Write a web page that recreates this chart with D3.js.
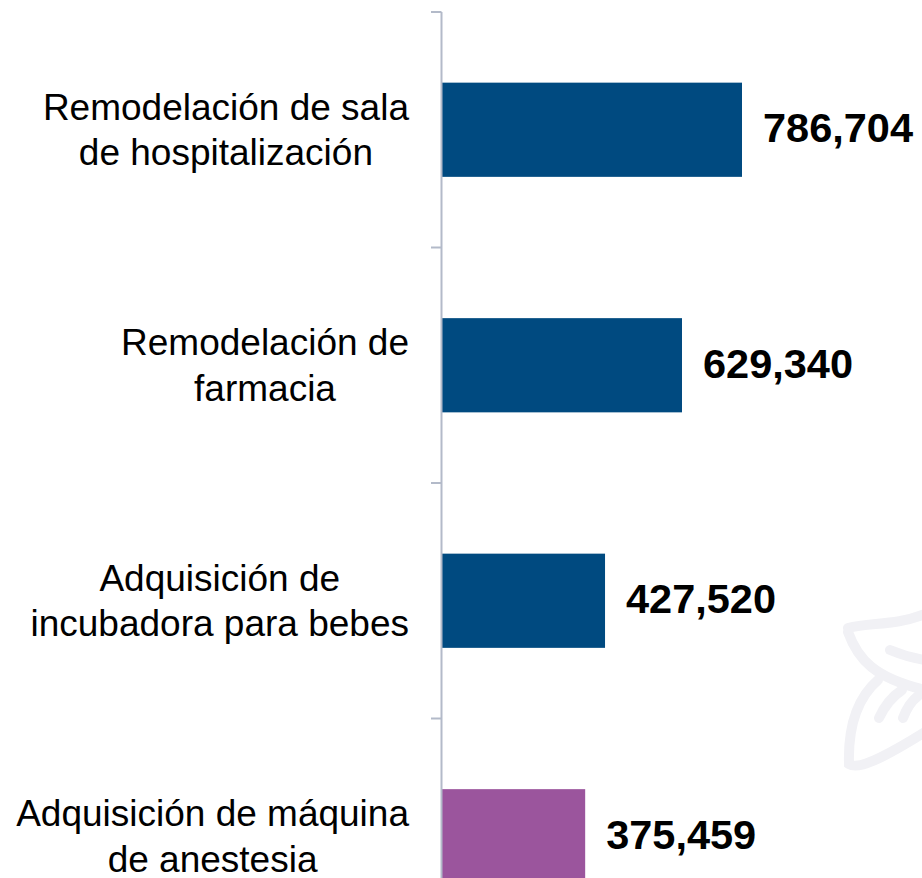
<!DOCTYPE html>
<html>
<head>
<meta charset="utf-8">
<script src="https://cdn.jsdelivr.net/npm/d3@7"></script>
<style>
  html, body { margin: 0; padding: 0; background: #fff; }
  svg { display: block; }
</style>
</head>
<body>
<svg id="chart" width="922" height="878"></svg>
<script>
const categories = [
  ["Remodelación de sala", "de hospitalización"],
  ["Remodelación de", "farmacia"],
  ["Adquisición de", "incubadora para bebes"],
  ["Adquisición de máquina", "de anestesia"]
];
const values = [786704, 629340, 427520, 375459];
const barColors = ["#004A80", "#004A80", "#004A80", "#9B559D"];

const svg = d3.select("#chart");
const keys = categories.map((c, i) => "c" + i);

// watermark (decorative)
const wm = svg.append("g").attr("fill", "none").attr("stroke", "#f1f1f5")
  .attr("stroke-width", 10).attr("stroke-linecap", "round");
wm.append("path").attr("d", "M848,628 C870,622 895,626 925,614");
wm.append("path").attr("d", "M848,632 C858,660 875,678 925,690");
wm.append("path").attr("d", "M890,650 C902,655 912,658 925,660");
wm.append("path").attr("d", "M878,680 C855,700 848,730 849,764 C858,770 880,760 925,732");
wm.append("path").attr("d", "M879,718 C885,705 893,696 902,690");
wm.append("path").attr("d", "M903,718 C906,710 910,702 918,696");

const y = d3.scaleBand().domain(keys).range([12, 954]).paddingInner(0.6).paddingOuter(0.3);
const x = d3.scaleLinear().domain([0, 900000]).range([442, 442 + 300 * 900000 / 786704]);

// bars
svg.append("g").selectAll("rect").data(values).join("rect")
  .attr("x", x(0))
  .attr("y", (d, i) => y(keys[i]))
  .attr("width", d => x(d) - x(0))
  .attr("height", y.bandwidth())
  .attr("fill", (d, i) => barColors[i]);

// axis line and ticks
const axisColor = "#b3bac9";
const step = y.step();
const boundaries = keys.map(k => y(k) - y.paddingInner() * step / 2);
boundaries.push(boundaries[boundaries.length - 1] + step);
svg.append("line").attr("x1", 441.5).attr("x2", 441.5)
  .attr("y1", boundaries[0]).attr("y2", boundaries[boundaries.length - 1])
  .attr("stroke", axisColor).attr("stroke-width", 2);
svg.append("g").selectAll("line").data(boundaries).join("line")
  .attr("x1", 431).attr("x2", 441.5)
  .attr("y1", d => d).attr("y2", d => d)
  .attr("stroke", axisColor).attr("stroke-width", 2);

// category labels
const lab = svg.append("g").attr("font-family", "Liberation Sans, Arial, sans-serif")
  .attr("font-size", 37).attr("fill", "#000").attr("text-anchor", "middle");
categories.forEach((lines, i) => {
  const cy = y(keys[i]) + y.bandwidth() / 2;
  lines.forEach((t, j) => {
    lab.append("text")
      .attr("x", 0)
      .attr("y", cy + (j - (lines.length - 1) / 2) * 45.5)
      .attr("dy", "0.35em")
      .attr("data-i", i)
      .text(t);
  });
});
// center each label block, right edge of the widest line at 409
categories.forEach((lines, i) => {
  const nodes = lab.selectAll("text").filter(function() { return +this.getAttribute("data-i") === i; }).nodes();
  const w = d3.max(nodes, n => n.getComputedTextLength());
  nodes.forEach(n => n.setAttribute("x", 409 - w / 2));
});

// value labels
const fmt = d3.format(",");
svg.append("g").selectAll("text").data(values).join("text")
  .attr("x", d => x(d) + 21)
  .attr("y", (d, i) => y(keys[i]) + y.bandwidth() / 2 - 2)
  .attr("dy", "0.35em")
  .attr("font-family", "Liberation Sans, Arial, sans-serif")
  .attr("font-size", 41.5)
  .attr("font-weight", "bold")
  .attr("fill", "#000")
  .text(d => fmt(d));
</script>
</body>
</html>
